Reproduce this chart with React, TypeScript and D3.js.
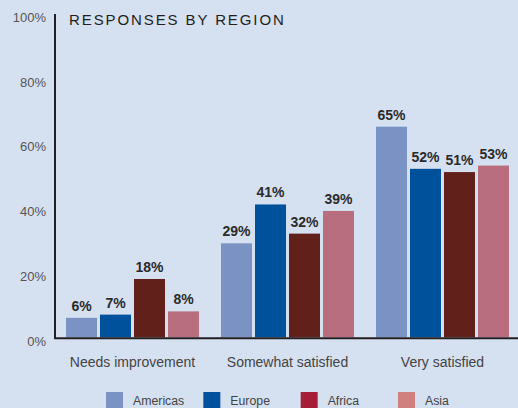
import React from "react";
import * as d3 from "d3";

const categories = ["Needs improvement", "Somewhat satisfied", "Very satisfied"];
const seriesNames = ["Americas", "Europe", "Africa", "Asia"];
const americas = [6, 29, 65];
const europe = [7, 41, 52];
const africa = [18, 32, 51];
const asia = [8, 39, 53];
const yTicks = [0, 20, 40, 60, 80, 100];
const title = "RESPONSES BY REGION";

const barColors = ["#7B93C4", "#00519B", "#62201A", "#B86E7E"];
const legendColors = ["#7B93C4", "#00519B", "#A51E36", "#CF807F"];

const W = 518;
const H = 408;

export default function App() {
  const series = [americas, europe, africa, asia];
  const x0 = d3.scaleBand<string>().domain(categories).range([55, 520]).paddingInner(22 / 155).paddingOuter(11 / 155);
  const x1 = d3.scaleBand<string>().domain(seriesNames).range([0, x0.bandwidth()]).paddingInner(3 / 34).paddingOuter(0);
  const y = d3.scaleLinear().domain([0, 100]).range([337.3, 13.3]);
  const font = "'Liberation Sans', Arial, Helvetica, sans-serif";
  const legendX = d3.scaleLinear().domain([0, 3]).range([106, 398]);

  return (
    <svg width={W} height={H} style={{ position: "fixed", left: 0, top: 0, background: "#D5E0F1" }} fontFamily={font}>
      <rect x={0} y={0} width={W} height={H} fill="#D5E0F1" />
      {yTicks.map((t) => (
        <text key={t} x={46} y={y(t) + 4} textAnchor="end" dominantBaseline="central" fontSize={13} fill="#555">
          {t}%
        </text>
      ))}
      {categories.map((c, ci) =>
        series.map((s, si) => {
          const bx = (x0(c) as number) + (x1(seriesNames[si]) as number);
          const v = s[ci];
          return (
            <g key={c + si}>
              <rect x={bx} y={y(v)} width={x1.bandwidth()} height={y(0) - y(v)} fill={barColors[si]} />
              <text x={bx + x1.bandwidth() / 2} y={y(v) - 7} textAnchor="middle" fontSize={14} fontWeight="bold" fill="#2B2B2B">
                {v}%
              </text>
            </g>
          );
        })
      )}
      <line x1={55} x2={55} y1={14} y2={338.3} stroke="#231F20" strokeWidth={2} />
      <line x1={54} x2={W} y1={338.3} y2={338.3} stroke="#231F20" strokeWidth={2} />
      <text x={69} y={19.5} dominantBaseline="central" fontSize={15} letterSpacing={1.9} fill="#231F20">
        {title}
      </text>
      {categories.map((c) => (
        <text key={c} x={(x0(c) as number) + x0.bandwidth() / 2} y={362} textAnchor="middle" dominantBaseline="central" fontSize={14} fill="#444">
          {c}
        </text>
      ))}
      {seriesNames.map((n, i) => (
        <g key={n}>
          <rect x={legendX(i)} y={392} width={17} height={17} fill={legendColors[i]} />
          <text x={legendX(i) + 27} y={400.5} dominantBaseline="central" fontSize={12.3} fill="#444">
            {n}
          </text>
        </g>
      ))}
    </svg>
  );
}
